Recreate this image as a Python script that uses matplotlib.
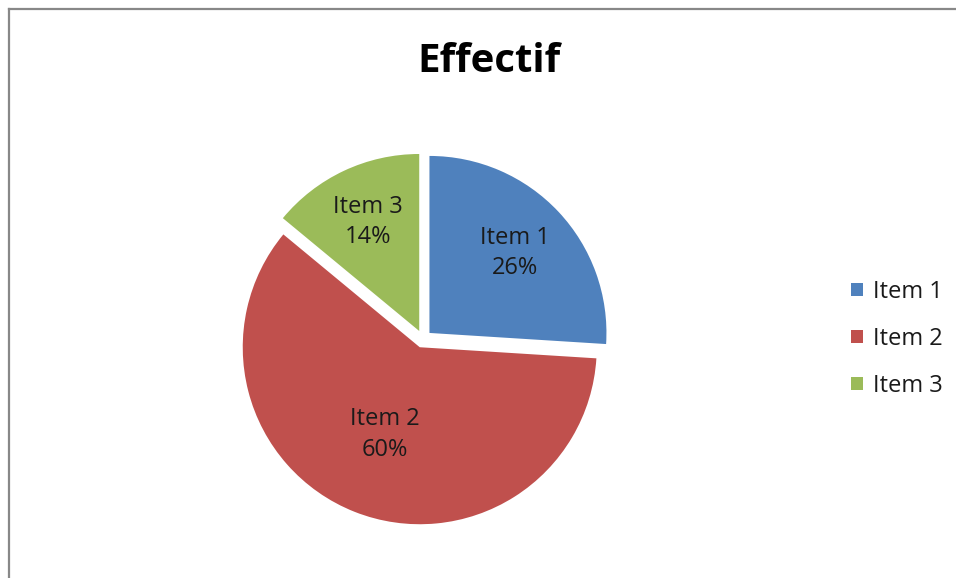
import matplotlib
matplotlib.use("Agg")
import matplotlib.pyplot as plt
from matplotlib.lines import Line2D
import numpy as np

# ---- data ----
categories = ["Item 1", "Item 2", "Item 3"]
values = [26, 60, 14]
colors = ["#4F81BD", "#C0504D", "#9BBB59"]
title = "Effectif"
label_dist = [0.66, 0.53, 0.68]   # label placement (fraction of radius)

plt.rcParams['font.family'] = ['Open Sans', 'DejaVu Sans']

W, H = 956, 578
fig = plt.figure(figsize=(W / 100, H / 100), dpi=100)
fig.patch.set_facecolor("white")

# pie axes: centre at (423, 339) px, radius 177 px
cx, cy, r = 423, 339, 177
half = 1.2 * r
ax = fig.add_axes([(cx - half) / W, (H - cy - half) / H, 2 * half / W, 2 * half / H])
wedges, texts, autotexts = ax.pie(values, colors=colors, startangle=90, counterclock=False,
                                  explode=[0.05] * len(values), radius=1,
                                  autopct=lambda p: f"{p:.0f}%",
                                  wedgeprops=dict(linewidth=0),
                                  textprops=dict(fontsize=17, color="#1a1a1a"))
ax.set_xlim(-1.2, 1.2)
ax.set_ylim(-1.2, 1.2)
ax.axis("off")

for w, at, cat, d in zip(wedges, autotexts, categories, label_dist):
    thetam = np.deg2rad(0.5 * (w.theta1 + w.theta2))
    x0, y0 = w.center
    at.set_position((x0 + d * w.r * np.cos(thetam), y0 + d * w.r * np.sin(thetam)))
    at.set_text(f"{cat}\n{at.get_text()}")
    at.set_linespacing(1.36)
    at.set_ha("center")
    at.set_va("center")

fig.text(489 / W, 1 - 61 / H, title, ha="center", va="center",
         fontsize=29, fontweight="bold", color="#000000")

leg = fig.legend(wedges, categories, loc="center left",
                 bbox_to_anchor=(851 / W, 1 - 339 / H),
                 frameon=False, fontsize=17, handlelength=0.5, handleheight=0.5,
                 handletextpad=0.42, labelspacing=0.98, borderpad=0, borderaxespad=0)
for t in leg.get_texts():
    t.set_color("#1a1a1a")

# chart frame (top and left edges visible)
fig.add_artist(Line2D([8.5 / W, 1], [1 - 9 / H, 1 - 9 / H], transform=fig.transFigure,
                      color="#888888", linewidth=1.6))
fig.add_artist(Line2D([8.5 / W, 8.5 / W], [0, 1 - 9 / H], transform=fig.transFigure,
                      color="#888888", linewidth=1.6))

fig.savefig("out.png", dpi=100, facecolor="white")
